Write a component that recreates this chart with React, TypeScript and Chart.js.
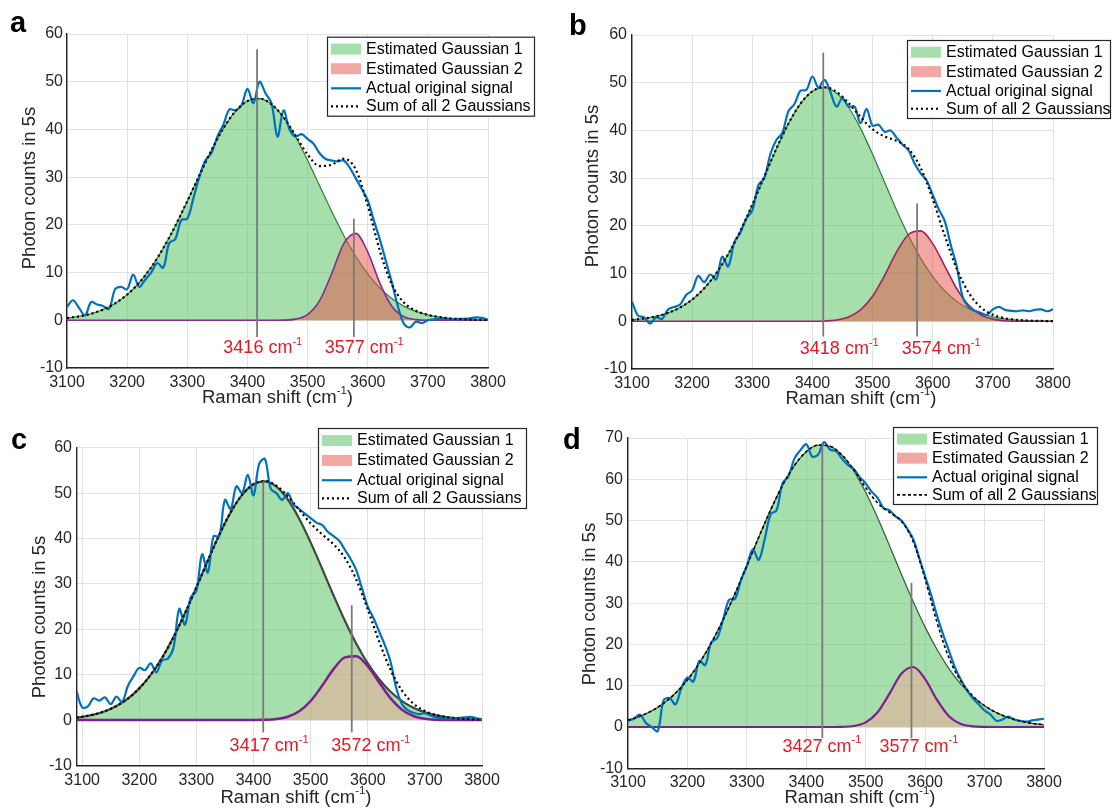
import { useEffect, useRef } from "react";
import { Chart, registerables } from "chart.js";
Chart.register(...registerables);

const FONT = "'Liberation Sans', Arial, Helvetica, sans-serif";

// ---------- sampling grids / tick labels ----------
const gaussX = [3100, 3120, 3140, 3160, 3180, 3200, 3220, 3240, 3260, 3280, 3300, 3320, 3340, 3360, 3380, 3400, 3420, 3440, 3460, 3480, 3500, 3520, 3540, 3560, 3580, 3600, 3620, 3640, 3660, 3680, 3700, 3720, 3740, 3760, 3780, 3800];
const gaussXc = [3090, ...gaussX];
const sigX = [
  3100, 3110, 3120, 3130, 3140, 3150, 3160, 3170, 3180, 3190,
  3200, 3210, 3220, 3230, 3240, 3250, 3260, 3270, 3280, 3290,
  3300, 3310, 3320, 3330, 3340, 3350, 3360, 3370, 3380, 3390,
  3400, 3410, 3420, 3430, 3440, 3450, 3460, 3470, 3480, 3490,
  3500, 3510, 3520, 3530, 3540, 3550, 3560, 3570, 3580, 3590,
  3600, 3610, 3620, 3630, 3640, 3650, 3660, 3670, 3680, 3690,
  3700, 3710, 3720, 3730, 3740, 3750, 3760, 3770, 3780, 3790,
  3800];
const sigXc = [3090, ...sigX];
const xTicks = [3100, 3200, 3300, 3400, 3500, 3600, 3700, 3800];
const yTicks60 = [-10, 0, 10, 20, 30, 40, 50, 60];
const yTicks70 = [-10, 0, 10, 20, 30, 40, 50, 60, 70];

// ---------- panel a ----------
const aG1 = [0.46, 0.81, 1.37, 2.25, 3.54, 5.38, 7.87, 11.11, 15.10, 19.78, 24.97, 30.37, 35.61, 40.22, 43.80, 45.95, 46.47, 45.28, 42.52, 38.48, 33.56, 28.20, 22.84, 17.83, 13.41, 9.72, 6.79, 4.57, 2.97, 1.86, 1.12, 0.65, 0.36, 0.20, 0.10, 0.05];
const aG2 = [0, 0, 0, 0, 0, 0, 0, 0, 0, 0, 0, 0, 0, 0, 0, 0, 0, 0, 0.03, 0.24, 1.20, 4.12, 9.76, 16.03, 18.22, 14.35, 7.83, 2.96, 0.77, 0.14, 0, 0, 0, 0, 0, 0];
const aSum = [0.46, 0.81, 1.37, 2.25, 3.54, 5.38, 7.87, 11.11, 15.10, 19.78, 24.97, 30.37, 35.61, 40.22, 43.80, 45.95, 46.47, 45.28, 42.55, 38.72, 34.76, 32.32, 32.60, 33.86, 31.63, 24.07, 14.62, 7.53, 3.74, 2.00, 1.12, 0.65, 0.36, 0.20, 0.10, 0.05];
const aSig = [
  2.8, 4.2, 2.6, 1.0, 3.8, 3.3, 3.0, 2.4, 6.5, 7.0,
  6.5, 9.6, 7.0, 8.5, 10.0, 12.0, 11.0, 16.2, 17.0, 21.0,
  21.3, 25.5, 30.0, 33.5, 35.0, 38.5, 41.0, 44.2, 44.0, 45.0,
  48.5, 45.5, 50.0, 47.6, 45.5, 38.5, 44.0, 40.0, 38.5, 39.0,
  38.0, 37.0, 35.0, 33.8, 33.5, 33.3, 33.5, 32.0, 29.8, 27.5,
  25.2, 21.0, 17.0, 12.5, 8.0, 3.0, -0.7, -1.5, -0.3, -0.6,
  0.0, 0.2, 0.3, 0.3, 0.2, 0.3, 0.3, 0.4, 0.6, 0.5,
  0.1];
const aPeaks = [3416, 3577];
const aPeakTop = [56.8, 21.3];

// ---------- panel b ----------
const bG1 = [0.31, 0.58, 1.03, 1.76, 2.89, 4.55, 6.90, 10.05, 14.07, 18.91, 24.43, 30.32, 36.16, 41.42, 45.58, 48.21, 48.99, 47.83, 44.86, 40.43, 35.01, 29.13, 23.28, 17.88, 13.19, 9.35, 6.37, 4.17, 2.62, 1.58, 0.92, 0.51, 0.27, 0.14, 0.07, 0.03];
const bG2 = [0, 0, 0, 0, 0, 0, 0, 0, 0, 0, 0, 0, 0, 0, 0, 0.01, 0.07, 0.27, 0.89, 2.37, 5.24, 9.59, 14.54, 18.24, 18.94, 16.28, 11.58, 6.82, 3.33, 1.34, 0.45, 0.12, 0.03, 0, 0, 0];
const bSum = [0.31, 0.58, 1.03, 1.76, 2.89, 4.55, 6.90, 10.05, 14.07, 18.91, 24.43, 30.32, 36.16, 41.42, 45.58, 48.22, 49.06, 48.10, 45.75, 42.80, 40.25, 38.72, 37.82, 36.12, 32.13, 25.63, 17.95, 10.99, 5.95, 2.92, 1.37, 0.63, 0.30, 0.14, 0.07, 0.03];
const bSig = [
  4.1, 1.2, 0.8, -0.5, 0.8, 0.5, 2.5, 3.0, 3.5, 5.5,
  6.5, 9.5, 8.2, 9.8, 8.8, 13.5, 11.5, 16.5, 18.5, 21.5,
  23.2, 28.5, 30.0, 35.0, 38.0, 39.5, 44.0, 45.5, 48.3, 48.5,
  51.3, 49.0, 50.6, 48.0, 45.0, 46.8, 45.0, 45.0, 41.5, 44.5,
  41.0, 41.2, 39.7, 40.0, 38.5, 37.0, 35.8, 33.0, 31.0, 29.5,
  26.5, 23.5, 21.0, 16.0, 11.5, 5.0, 3.0, 2.2, 1.8, 1.3,
  2.5, 3.0, 2.4, 2.2, 2.1, 2.3, 2.1, 2.4, 2.5, 2.1,
  2.5];
const bPeaks = [3418, 3574];
const bPeakTop = [56.3, 24.7];

// ---------- panel c ----------
const cG1 = [0.54, 0.71, 1.20, 1.96, 3.10, 4.73, 6.99, 9.97, 13.73, 18.28, 23.53, 29.25, 35.14, 40.80, 45.76, 49.60, 51.95, 52.58, 51.42, 48.59, 44.37, 39.15, 33.38, 27.50, 21.89, 16.84, 12.52, 8.99, 6.24, 4.18, 2.71, 1.70, 1.03, 0.60, 0.34, 0.19, 0.10];
const cG2 = [0, 0, 0, 0, 0, 0, 0, 0, 0, 0, 0, 0, 0, 0, 0, 0, 0.01, 0.06, 0.23, 0.74, 1.94, 4.20, 7.55, 11.23, 13.82, 14.09, 11.88, 8.30, 4.79, 2.29, 0.91, 0.30, 0.08, 0.02, 0, 0, 0];
const cSum = [0.54, 0.71, 1.20, 1.96, 3.10, 4.73, 6.99, 9.97, 13.73, 18.28, 23.53, 29.25, 35.14, 40.80, 45.76, 49.60, 51.96, 52.64, 51.65, 49.33, 46.31, 43.35, 40.93, 38.73, 35.71, 30.93, 24.40, 17.29, 11.03, 6.47, 3.62, 2.00, 1.11, 0.62, 0.34, 0.19, 0.10];
const cSig = [6.4,
  2.8, 3.0, 4.8, 4.3, 5.0, 3.5, 5.2, 4.0, 7.5, 9.7,
  11.5, 11.0, 12.5, 10.5, 13.2, 13.5, 16.0, 24.5, 21.0, 27.0,
  28.5, 36.5, 32.5, 40.5, 40.5, 48.5, 46.5, 51.5, 50.0, 54.0,
  49.5, 56.5, 57.5, 51.0, 50.0, 48.5, 50.0, 47.5, 46.5, 45.5,
  44.5, 43.5, 43.0, 41.5, 40.5, 39.5, 37.5, 35.5, 33.0, 29.0,
  25.0, 22.5, 19.5, 16.5, 12.8, 7.0, 3.5, 2.2, 1.6, 1.3,
  1.5, 1.0, 0.6, 0.4, 0.4, 0.4, 0.5, 0.6, 0.7, 0.4,
  0.2];
const cPeaks = [3417, 3572];
const cPeakTop = [52.6, 25.3];

// ---------- panel d ----------
const dG1 = [1.67, 2.59, 3.92, 5.75, 8.22, 11.43, 15.45, 20.32, 25.97, 32.30, 39.07, 45.96, 52.59, 58.53, 63.35, 66.69, 68.28, 68.00, 65.86, 62.05, 56.85, 50.66, 43.90, 37.01, 30.34, 24.19, 18.77, 14.16, 10.38, 7.41, 5.14, 3.47, 2.28, 1.46, 0.90, 0.55];
const dG2 = [0, 0, 0, 0, 0, 0, 0, 0, 0, 0, 0, 0, 0, 0, 0, 0, 0, 0, 0.04, 0.25, 1.12, 3.58, 8.08, 12.88, 14.54, 11.61, 6.56, 2.62, 0.74, 0.15, 0.02, 0, 0, 0, 0, 0];
const dSum = [1.67, 2.59, 3.92, 5.75, 8.22, 11.43, 15.45, 20.32, 25.97, 32.30, 39.07, 45.96, 52.59, 58.53, 63.35, 66.69, 68.28, 68.00, 65.90, 62.30, 57.97, 54.24, 51.98, 49.89, 44.88, 35.80, 25.33, 16.78, 11.12, 7.56, 5.16, 3.47, 2.28, 1.46, 0.90, 0.55];
const dSig = [
  1.5, 2.0, 3.0, 1.0, 0.0, -1.0, 6.5, 7.0, 5.5, 9.5,
  12.0, 11.0, 16.0, 15.0, 20.5, 21.5, 26.0, 30.8, 31.0, 35.5,
  39.0, 43.0, 40.5, 45.5, 51.5, 52.5, 59.0, 60.7, 65.0, 67.0,
  68.5, 65.5, 66.0, 69.0, 67.2, 66.8, 65.0, 63.5, 62.5, 60.5,
  59.0, 57.0, 55.5, 53.0, 52.5, 51.0, 50.0, 48.0, 45.5, 41.0,
  36.5, 32.0, 27.0, 22.5, 18.5, 14.5, 11.5, 9.0, 7.0, 5.5,
  4.0, 3.0, 1.5, 1.8, 2.5, 1.8, 1.5, 1.3, 1.6, 1.8,
  2.0];
const dPeaks = [3427, 3577];
const dPeakTop = [68.7, 34.9];

const legendLabels = ["Estimated Gaussian 1", "Estimated Gaussian 2", "Actual original signal", "Sum of all 2 Gaussians"];

// ---------- styles ----------
const G1_FILL = "rgba(77,190,90,0.5)";
const SIG_COLOR = "#0072BD";
const RED = "#e31a23";
const PEAK_COLOR = "#7a7a7a";
const W = 1112, H = 810;

const panels = [
  {
    letter: "a", letterPos: [10, 32], area: { left: 67, right: 488, top: 34, bottom: 368 }, xMin: 3100, yMax: 60, yTicks: yTicks60,
    gx: gaussX, g1: aG1, g2: aG2, sum: aSum, sx: sigX, sig: aSig,
    peaks: aPeaks, peakTop: aPeakTop, peakBottom: -3.5, labelX: [3425.6, 3594.2], labelY: -5.9,
    legend: { x: 327, y: 36.7, w: 208, h: 80 }, yTitle: [30, 188], xTitle: [277.5, 398],
    g1Line: "#2d7d3a", g1W: 1.2, g2Fill: "rgba(231,80,70,0.5)", g2Swatch: "rgba(231,80,70,0.5)", g2Line: "#7e2f8e", g2W: 1.6, sumDash: [2, 3], sumW: 2.2, yPad: 4,
  },
  {
    letter: "b", letterPos: [569, 35], area: { left: 632, right: 1053, top: 35, bottom: 369 }, xMin: 3100, yMax: 60, yTicks: yTicks60,
    gx: gaussX, g1: bG1, g2: bG2, sum: bSum, sx: sigX, sig: bSig,
    peaks: bPeaks, peakTop: bPeakTop, peakBottom: -3.2, labelX: [3444.7, 3614.3], labelY: -5.8,
    legend: { x: 907, y: 40, w: 204, h: 79 }, yTitle: [593, 186], xTitle: [861, 399],
    g1Line: "#2d7d3a", g1W: 1.2, g2Fill: "rgba(231,80,70,0.5)", g2Swatch: "rgba(231,80,70,0.5)", g2Line: "#a3205c", g2W: 1.6, sumDash: [2, 3], sumW: 2.2, yPad: 5,
  },
  {
    letter: "c", letterPos: [11, 449], area: { left: 77, right: 482, top: 447.7, bottom: 765.5 }, xMin: 3091, yMax: 60, yTicks: yTicks60,
    gx: gaussXc, g1: cG1, g2: cG2, sum: cSum, sx: sigXc, sig: cSig,
    peaks: cPeaks, peakTop: cPeakTop, peakBottom: -2.7, labelX: [3427.3, 3605.4], labelY: -5.7,
    legend: { x: 318, y: 428, w: 209, h: 81 }, yTitle: [40, 617], xTitle: [296, 798],
    g1Line: "#3d4a3d", g1W: 2.2, g2Fill: "rgba(250,160,150,0.45)", g2Swatch: "rgba(231,80,70,0.5)", g2Line: "#7e1f8e", g2W: 2.5, sumDash: [2, 3], sumW: 2.2, yPad: 5,
  },
  {
    letter: "d", letterPos: [563, 449], area: { left: 628, right: 1044, top: 438, bottom: 768.3 }, xMin: 3100, yMax: 70, yTicks: yTicks70,
    gx: gaussX, g1: dG1, g2: dG2, sum: dSum, sx: sigX, sig: dSig,
    peaks: dPeaks, peakTop: dPeakTop, peakBottom: -2.7, labelX: [3426.4, 3589.6], labelY: -4.8,
    legend: { x: 893, y: 427, w: 205, h: 78 }, yTitle: [590, 604], xTitle: [860, 798],
    g1Line: "#3b633b", g1W: 1.3, g2Fill: "rgba(250,160,150,0.45)", g2Swatch: "rgba(231,80,70,0.5)", g2Line: "#7e1f8e", g2W: 2.2, sumDash: [3, 2.5], sumW: 1.6, yPad: 5,
  },
];

const pts = (xs: number[], ys: number[]) => xs.map((x, i) => ({ x, y: ys[i] }));

function drawSup(ctx: CanvasRenderingContext2D, base: string, sup: string, tail: string, cx: number, cy: number, size: number, color: string) {
  const supSize = size * 0.62;
  ctx.font = `${size}px ${FONT}`;
  const wb = ctx.measureText(base).width;
  const wt = tail ? ctx.measureText(tail).width : 0;
  ctx.font = `${supSize}px ${FONT}`;
  const ws = ctx.measureText(sup).width;
  const x = cx - (wb + ws + wt) / 2;
  ctx.fillStyle = color;
  ctx.textAlign = "left";
  ctx.textBaseline = "middle";
  ctx.font = `${size}px ${FONT}`;
  ctx.fillText(base, x, cy);
  ctx.font = `${supSize}px ${FONT}`;
  ctx.fillText(sup, x + wb, cy - size * 0.36);
  if (tail) {
    ctx.font = `${size}px ${FONT}`;
    ctx.fillText(tail, x + wb + ws, cy);
  }
}

function makeDecor(p: any) {
  return {
    id: "decor" + p.letter,
    afterDatasetsDraw(chart: any) {
      const ctx = chart.ctx as CanvasRenderingContext2D;
      const xs = chart.scales.x;
      const ys = chart.scales.y;
      ctx.save();
      p.peaks.forEach((pk: number, i: number) => {
        const x = xs.getPixelForValue(pk);
        ctx.strokeStyle = PEAK_COLOR;
        ctx.lineWidth = 1.8;
        ctx.setLineDash([]);
        ctx.beginPath();
        ctx.moveTo(x, ys.getPixelForValue(p.peakTop[i]));
        ctx.lineTo(x, ys.getPixelForValue(p.peakBottom));
        ctx.stroke();
        drawSup(ctx, `${pk} cm`, "-1", "", xs.getPixelForValue(p.labelX[i]), ys.getPixelForValue(p.labelY), 18, RED);
      });
      ctx.restore();
    },
    afterDraw(chart: any) {
      const ctx = chart.ctx as CanvasRenderingContext2D;
      ctx.save();
      // panel letter
      ctx.fillStyle = "#000";
      ctx.font = `bold 29px ${FONT}`;
      ctx.textAlign = "left";
      ctx.textBaseline = "alphabetic";
      ctx.fillText(p.letter, p.letterPos[0], p.letterPos[1]);
      // y title
      ctx.save();
      ctx.translate(p.yTitle[0], p.yTitle[1]);
      ctx.rotate(-Math.PI / 2);
      ctx.fillStyle = "#262626";
      ctx.font = `18.5px ${FONT}`;
      ctx.textAlign = "center";
      ctx.textBaseline = "middle";
      ctx.fillText("Photon counts in 5s", 0, 0);
      ctx.restore();
      // x title
      drawSup(ctx, "Raman shift (cm", "-1", ")", p.xTitle[0], p.xTitle[1], 18.5, "#262626");
      // legend
      const L = p.legend;
      ctx.fillStyle = "#fff";
      ctx.fillRect(L.x, L.y, L.w, L.h);
      ctx.strokeStyle = "#262626";
      ctx.lineWidth = 1.2;
      ctx.setLineDash([]);
      ctx.strokeRect(L.x + 0.5, L.y + 0.5, L.w - 1, L.h - 1);
      const rows = [0.155, 0.4, 0.645, 0.87].map((f) => L.y + L.h * f);
      const sx = L.x + 4, sw = 30;
      ctx.fillStyle = G1_FILL;
      ctx.fillRect(sx, rows[0] - 5.5, sw, 11);
      ctx.fillStyle = p.g2Swatch;
      ctx.fillRect(sx, rows[1] - 5.5, sw, 11);
      ctx.strokeStyle = SIG_COLOR;
      ctx.lineWidth = 2.2;
      ctx.beginPath();
      ctx.moveTo(sx, rows[2]);
      ctx.lineTo(sx + sw, rows[2]);
      ctx.stroke();
      ctx.strokeStyle = "#000";
      ctx.lineWidth = p.sumW;
      ctx.setLineDash(p.sumDash);
      ctx.beginPath();
      ctx.moveTo(sx, rows[3]);
      ctx.lineTo(sx + sw, rows[3]);
      ctx.stroke();
      ctx.setLineDash([]);
      ctx.fillStyle = "#000";
      ctx.font = `16px ${FONT}`;
      ctx.textAlign = "left";
      ctx.textBaseline = "middle";
      legendLabels.forEach((t, i) => ctx.fillText(t, L.x + 39, rows[i] + 0.5));
      ctx.restore();
    },
  };
}

const Y_W = 50, X_H = 28;

function Panel({ p }: { p: any }) {
  const ref = useRef<HTMLCanvasElement>(null);
  useEffect(() => {
    const a = p.area;
    const chart = new Chart(ref.current as HTMLCanvasElement, {
      type: "line",
      data: {
        datasets: [
          { label: legendLabels[0], data: pts(p.gx, p.g1), borderColor: p.g1Line, borderWidth: p.g1W, backgroundColor: G1_FILL, fill: "origin", pointRadius: 0, cubicInterpolationMode: "monotone", order: 4 },
          { label: legendLabels[1], data: pts(p.gx, p.g2), borderColor: p.g2Line, borderWidth: p.g2W, backgroundColor: p.g2Fill, fill: "origin", pointRadius: 0, cubicInterpolationMode: "monotone", order: 3 },
          { label: legendLabels[2], data: pts(p.sx, p.sig), borderColor: SIG_COLOR, borderWidth: 2.2, fill: false, pointRadius: 0, tension: 0.35, order: 2 },
          { label: legendLabels[3], data: pts(p.gx, p.sum), borderColor: "#000", borderWidth: p.sumW, borderDash: p.sumDash, fill: false, pointRadius: 0, cubicInterpolationMode: "monotone", order: 1 },
        ],
      } as any,
      options: {
        animation: false,
        responsive: false,
        events: [],
        layout: { padding: { left: a.left - Y_W, right: W - a.right, top: a.top, bottom: H - a.bottom - X_H } },
        plugins: { legend: { display: false }, tooltip: { enabled: false } },
        scales: {
          x: {
            type: "linear", min: p.xMin, max: 3800, bounds: "data",
            afterBuildTicks: (s: any) => { s.ticks = xTicks.map((v) => ({ value: v })); },
            afterFit: (s: any) => { s.height = X_H; },
            grid: { color: "#e2e2e2", lineWidth: 1, drawTicks: false },
            border: { display: true, color: "#262626", width: 1.4 },
            ticks: { padding: 5, color: "#262626", font: { family: FONT, size: 16 }, maxRotation: 0, autoSkip: false, callback: (v: any) => String(v) },
          },
          y: {
            type: "linear", min: -10, max: p.yMax, bounds: "data",
            afterBuildTicks: (s: any) => { s.ticks = p.yTicks.map((v: number) => ({ value: v })); },
            afterFit: (s: any) => { s.width = Y_W; },
            grid: { color: "#e2e2e2", lineWidth: 1, drawTicks: false },
            border: { display: true, color: "#262626", width: 1.4 },
            ticks: { padding: p.yPad, color: "#262626", font: { family: FONT, size: 16 }, autoSkip: false, callback: (v: any) => String(v) },
          },
        },
      } as any,
      plugins: [makeDecor(p)],
    });
    return () => chart.destroy();
  }, []);
  return <canvas ref={ref} width={W} height={H} style={{ position: "absolute", left: 0, top: 0, width: W, height: H }} />;
}

export default function App() {
  return (
    <div style={{ position: "absolute", left: 0, top: 0, width: W, height: H, background: "#fff", overflow: "hidden" }}>
      {panels.map((p) => (
        <Panel key={p.letter} p={p} />
      ))}
    </div>
  );
}
